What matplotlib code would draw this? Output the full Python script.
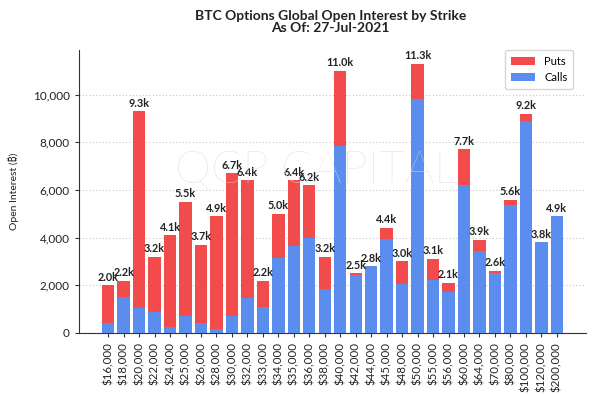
import matplotlib
matplotlib.use("Agg")
import matplotlib.pyplot as plt
import numpy as np

strikes = ["$16,000", "$18,000", "$20,000", "$22,000", "$24,000", "$25,000", "$26,000",
           "$28,000", "$30,000", "$32,000", "$33,000", "$34,000", "$35,000", "$36,000",
           "$38,000", "$40,000", "$42,000", "$44,000", "$45,000", "$48,000", "$50,000",
           "$55,000", "$56,000", "$60,000", "$64,000", "$70,000", "$80,000", "$100,000",
           "$120,000", "$200,000"]
calls = [400, 1530, 1060, 870, 240, 730, 430, 150, 710, 1460, 1110, 3140, 3660, 4000,
         1860, 7830, 2440, 2800, 3950, 2070, 9820, 2240, 1710, 6220, 3460, 2530, 5360,
         8880, 3800, 4900]
puts = [1600, 670, 8240, 2330, 3860, 4770, 3270, 4750, 5990, 4940, 1090, 1860, 2740,
        2200, 1340, 3170, 60, 0, 450, 930, 1480, 860, 390, 1480, 440, 70, 240, 320, 0, 0]

plt.rcParams['font.family'] = ['Lato', 'Noto Sans', 'DejaVu Sans']

RED = '#F24B4B'
BLUE = '#5B8DEF'

fig = plt.figure(figsize=(5.98, 3.95), dpi=100)
ax = fig.add_axes([0.132, 0.157, 0.848, 0.716])

x = np.arange(len(strikes))
calls_a = np.array(calls)
puts_a = np.array(puts)
totals = calls_a + puts_a

ax.bar(x, calls_a, width=0.8, color=BLUE, label='Calls', zorder=3)
ax.bar(x, puts_a, width=0.8, bottom=calls_a, color=RED, label='Puts', zorder=3)

for xi, t in zip(x, totals):
    ax.text(xi, t + 110, f"{t/1000:.1f}k", ha='center', va='bottom',
            fontsize=7.8, fontweight='bold', color='#222222', zorder=4)

ax.set_xticks(x)
ax.set_xticklabels(strikes, rotation=90, fontsize=8.3, color='#222222')
ax.set_yticks([0, 2000, 4000, 6000, 8000, 10000])
ax.set_yticklabels(["0", "2,000", "4,000", "6,000", "8,000", "10,000"], fontsize=8.5,
                   color='#222222')
ax.set_ylabel("Open Interest (₿)", fontsize=7.5, color='#222222')
ax.yaxis.set_label_coords(-0.118, 0.5)

ax.yaxis.grid(True, linestyle=(0, (1, 2)), color='#c8c8c8', linewidth=0.8, zorder=0)
ax.set_axisbelow(True)
for s in ['top', 'right']:
    ax.spines[s].set_visible(False)
ax.spines['left'].set_color('#333333')
ax.spines['bottom'].set_color('#333333')
ax.tick_params(axis='both', length=3, color='#333333')

# watermark: centre at pixel (316, 170) of the figure
fig.text(316 / 598, 1 - 170 / 395, "QCP CAPITAL", ha='center', va='center',
         fontsize=33, color='#dcdcdc', fontweight='light', zorder=0.5)
ax.set_facecolor('none')

handles, labels = ax.get_legend_handles_labels()
leg = ax.legend(handles[::-1], labels[::-1], loc='upper right', fontsize=8,
                frameon=True, borderpad=0.5, handlelength=2.2, bbox_to_anchor=(0.985, 1.02))
leg.get_frame().set_edgecolor('#cccccc')

fig.text(0.553, 0.975, "BTC Options Global Open Interest by Strike\nAs Of: 27-Jul-2021",
         ha='center', va='top', fontsize=10, fontweight='bold', color='#222222',
         linespacing=1.0)

fig.savefig("out.png", dpi=100)
